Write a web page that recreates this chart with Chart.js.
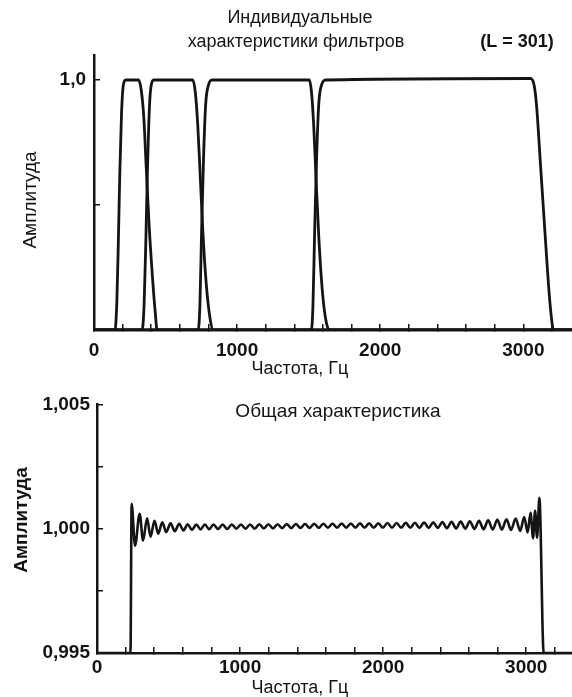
<!DOCTYPE html>
<html>
<head>
<meta charset="utf-8">
<script src="https://cdn.jsdelivr.net/npm/chart.js@4.4.0/dist/chart.umd.min.js"></script>
<style>
  body { margin: 0; background: #fff; width: 572px; height: 697px; overflow: hidden; }
  canvas { position: absolute; left: 0; }
  #topchart { top: 0; }
  #bottomchart { top: 380px; }
</style>
</head>
<body>
<canvas id="topchart" width="572" height="380"></canvas>
<canvas id="bottomchart" width="572" height="317"></canvas>
<script>
// individual filters (Hz, amplitude)
const f1Hz  = [0, 147, 160, 170, 180, 192, 205, 222, 312, 330, 348, 365, 385, 410, 428, 441, 3340];
const f1Amp = [0, 0, 0.12, 0.35, 0.62, 0.86, 0.98, 1, 1, 0.96, 0.85, 0.65, 0.42, 0.2, 0.07, 0, 0];
const f2Hz  = [0, 336, 350, 362, 374, 388, 400, 418, 690, 708, 725, 742, 760, 785, 810, 833, 3340];
const f2Amp = [0, 0, 0.1, 0.35, 0.65, 0.9, 0.98, 1, 1, 0.95, 0.82, 0.62, 0.4, 0.18, 0.05, 0, 0];
const f3Hz  = [0, 728, 740, 752, 765, 780, 800, 826, 1505, 1520, 1535, 1552, 1570, 1595, 1620, 1645, 3340];
const f3Amp = [0, 0, 0.1, 0.4, 0.68, 0.9, 0.98, 1, 1, 0.95, 0.82, 0.6, 0.38, 0.16, 0.04, 0, 0];
const f4Hz  = [0, 1519, 1530, 1542, 1555, 1570, 1590, 1620, 3050, 3075, 3092, 3120, 3150, 3180, 3200, 3210, 3340];
const f4Amp = [0, 0, 0.1, 0.4, 0.68, 0.9, 0.98, 1, 1.006, 0.98, 0.9, 0.66, 0.4, 0.15, 0.03, 0, 0];

// overall response
const sumHz = [0, 234, 242, 266, 298, 322, 350, 374, 402, 428, 456, 484, 514, 544, 574, 604, 634, 664, 694, 724,
  754, 784, 814, 846, 878, 910, 942, 974, 1006, 1038, 1070, 1102, 1134, 1166, 1198, 1230, 1262, 1294, 1326, 1358,
  1390, 1422, 1454, 1486, 1518, 1550, 1582, 1614, 1646, 1678, 1710, 1742, 1774, 1806, 1838, 1870, 1902, 1934, 1966, 1998,
  2030, 2062, 2094, 2126, 2158, 2190, 2222, 2254, 2286, 2318, 2350, 2382, 2414, 2446, 2478, 2510, 2542, 2574, 2606, 2638,
  2670, 2702, 2734, 2766, 2798, 2830, 2862, 2894, 2926, 2958, 2986, 3010, 3030, 3048, 3062, 3076, 3092, 3122, 3320];
const sumAmp = [0.995, 0.995, 1.00100, 0.99932, 1.00060, 0.99952, 1.00042, 0.99968, 1.00032, 0.99980, 1.00026, 0.99986,
  1.00022, 0.99990, 1.00020, 0.99993, 1.00018, 0.99995, 1.00017, 0.99997,
  1.00017, 0.99998, 1.00017, 0.99999, 1.00017, 0.99999, 1.00017, 1.00000, 1.00017, 1.00000, 1.00017, 1.00000,
  1.00018, 1.00001, 1.00018, 1.00001, 1.00018, 1.00002, 1.00019, 1.00002,
  1.00019, 1.00003, 1.00019, 1.00003, 1.00020, 1.00003, 1.00020, 1.00004, 1.00020, 1.00004, 1.00021, 1.00004,
  1.00021, 1.00004, 1.00022, 1.00004, 1.00022, 1.00004, 1.00022, 1.00004,
  1.00023, 1.00004, 1.00023, 1.00004, 1.00024, 1.00004, 1.00024, 1.00003, 1.00025, 1.00003, 1.00026, 1.00003,
  1.00027, 1.00002, 1.00028, 1.00001, 1.00029, 1.00000, 1.00030, 0.99999,
  1.00032, 0.99998, 1.00034, 0.99997, 1.00036, 0.99996, 1.00038, 0.99995, 1.00041, 0.99991, 1.00047, 0.99985,
  1.00064, 0.99962, 1.00072, 0.99964, 1.00124, 0.995, 0.995];

const ink = '#141414';
Chart.defaults.font.family = "'Liberation Sans', Arial, sans-serif";
Chart.defaults.color = ink;

function pts(xs, ys) {
  return xs.map((x, i) => ({x: x, y: ys[i]}));
}

function line(xs, ys, w) {
  return {
    data: pts(xs, ys),
    borderColor: ink,
    borderWidth: w,
    pointRadius: 0,
    fill: false,
    cubicInterpolationMode: 'monotone'
  };
}

// free text (titles) drawn on the canvas
const textPlugin = {
  id: 'texts',
  afterDraw(chart, args, opts) {
    const c = chart.ctx;
    c.save();
    c.fillStyle = ink;
    c.textAlign = 'center';
    c.textBaseline = 'middle';
    opts.items.forEach(t => {
      c.font = t.font;
      c.save();
      c.translate(t.x, t.y);
      if (t.rot) c.rotate(t.rot);
      c.fillText(t.text, 0, 0);
      c.restore();
    });
    c.restore();
  }
};

const tickFont = {size: 19, weight: 'bold'};
const gridOpts = {drawOnChartArea: false, drawTicks: true, tickLength: -6, color: ink, lineWidth: 1.5};
const borderOpts = {display: true, color: ink, width: 2.5};

const topChart = new Chart(document.getElementById('topchart').getContext('2d'), {
  type: 'line',
  data: {
    datasets: [line(f1Hz, f1Amp, 2.8), line(f2Hz, f2Amp, 2.8), line(f3Hz, f3Amp, 2.8), line(f4Hz, f4Amp, 2.8)]
  },
  plugins: [textPlugin],
  options: {
    responsive: false,
    animation: false,
    devicePixelRatio: 1,
    events: [],
    layout: {padding: {top: 55, left: 0, right: 0, bottom: 0}},
    plugins: {
      legend: {display: false},
      tooltip: {enabled: false},
      texts: {items: [
        {text: 'Индивидуальные', x: 300, y: 18, font: '18px "Liberation Sans", Arial'},
        {text: 'характеристики фильтров', x: 296, y: 42, font: '18px "Liberation Sans", Arial'},
        {text: '(L = 301)', x: 517, y: 42, font: 'bold 18px "Liberation Sans", Arial'},
        {text: 'Амплитуда', x: 31, y: 200, rot: -Math.PI / 2, font: '19px "Liberation Sans", Arial'},
        {text: 'Частота, Гц', x: 300, y: 369, font: '18px "Liberation Sans", Arial'}
      ]}
    },
    scales: {
      x: {
        type: 'linear', min: 0, max: 3340,
        border: borderOpts,
        grid: gridOpts,
        ticks: {
          stepSize: 200, includeBounds: false, autoSkip: false, maxRotation: 0,
          padding: 15, font: tickFont,
          callback: v => (v % 1000 === 0 ? String(v) : '')
        },
        afterFit: s => { s.height = 50; }
      },
      y: {
        type: 'linear', min: 0, max: 1.1,
        border: borderOpts,
        grid: gridOpts,
        ticks: {
          stepSize: 0.5, includeBounds: false, padding: 14, font: tickFont,
          callback: v => (v === 1 ? '1,0' : '')
        },
        afterFit: s => { s.width = 94; }
      }
    }
  }
});

const bottomChart = new Chart(document.getElementById('bottomchart').getContext('2d'), {
  type: 'line',
  data: {
    datasets: [line(sumHz, sumAmp, 2.6)]
  },
  plugins: [textPlugin],
  options: {
    responsive: false,
    animation: false,
    devicePixelRatio: 1,
    events: [],
    layout: {padding: {top: 23, left: 0, right: 0, bottom: 0}},
    plugins: {
      legend: {display: false},
      tooltip: {enabled: false},
      texts: {items: [
        {text: 'Общая характеристика', x: 338, y: 32, font: '19px "Liberation Sans", Arial'},
        {text: 'Амплитуда', x: 22, y: 140, rot: -Math.PI / 2, font: 'bold 19px "Liberation Sans", Arial'},
        {text: 'Частота, Гц', x: 300, y: 308, font: '18px "Liberation Sans", Arial'}
      ]}
    },
    scales: {
      x: {
        type: 'linear', min: 0, max: 3320,
        border: borderOpts,
        grid: gridOpts,
        ticks: {
          stepSize: 200, includeBounds: false, autoSkip: false, maxRotation: 0,
          padding: 9, font: tickFont,
          callback: v => (v % 1000 === 0 ? String(v) : '')
        },
        afterFit: s => { s.height = 44; }
      },
      y: {
        type: 'linear', min: 0.995, max: 1.005,
        border: borderOpts,
        grid: gridOpts,
        ticks: {
          stepSize: 0.0025, padding: 13, font: tickFont,
          callback: v => {
            const r = Math.round(v * 10000);
            return r % 50 === 0 ? (r / 10000).toFixed(3).replace('.', ',') : '';
          }
        },
        afterFit: s => { s.width = 97; }
      }
    }
  }
});
</script>
</body>
</html>
